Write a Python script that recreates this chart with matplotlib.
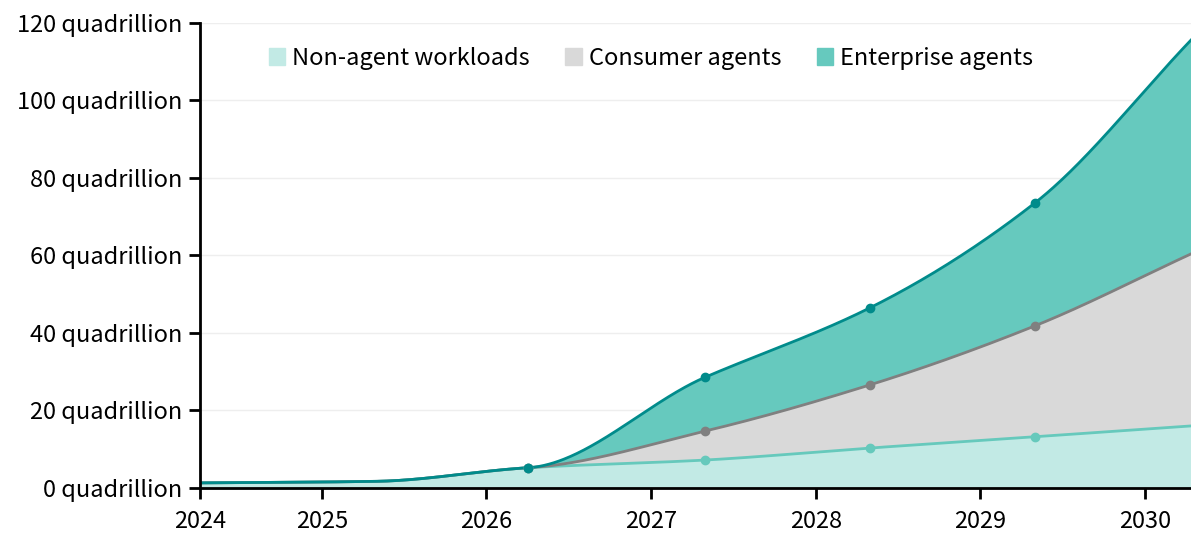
import matplotlib.pyplot as plt
import numpy as np

plt.rcParams['font.family'] = ['Noto Sans CJK KR', 'DejaVu Sans']

# data points (fractional years), quadrillions
years = [2024.26, 2025.33, 2026.25, 2027.33, 2028.33, 2029.33, 2030.28]
non_agent = [1.3, 1.7, 5.2, 7.2, 10.3, 13.2, 16.0]
consumer = [0.0, 0.0, 0.0, 7.5, 16.3, 28.6, 44.4]
enterprise = [0.0, 0.0, 0.0, 13.9, 19.9, 31.7, 55.2]
marker_idx = [2, 3, 4, 5]

series_names = ['Non-agent workloads', 'Consumer agents', 'Enterprise agents']
fills = ['#c2eae5', '#d9d9d9', '#66c9be']
lines = ['#66c9bc', '#808080', '#008b8b']


def pchip(x, y, xs):
    # monotone cubic curve through the points, for drawing the smooth line
    x = np.asarray(x, float)
    y = np.asarray(y, float)
    h = np.diff(x)
    d = np.diff(y) / h
    m = np.zeros_like(y)
    for k in range(1, len(x) - 1):
        if d[k - 1] * d[k] > 0:
            w1 = 2 * h[k] + h[k - 1]
            w2 = h[k] + 2 * h[k - 1]
            m[k] = (w1 + w2) / (w1 / d[k - 1] + w2 / d[k])
    m[0] = d[0]
    m[-1] = d[-1]
    i = np.clip(np.searchsorted(x, xs) - 1, 0, len(x) - 2)
    t = (xs - x[i]) / h[i]
    h00 = 2 * t**3 - 3 * t**2 + 1
    h10 = t**3 - 2 * t**2 + t
    h01 = -2 * t**3 + 3 * t**2
    h11 = t**3 - t**2
    return h00 * y[i] + h10 * h[i] * m[i] + h01 * y[i + 1] + h11 * h[i] * m[i + 1]


xs = np.linspace(years[0], years[-1], 600)
s1 = pchip(years, non_agent, xs)
s2 = s1 + pchip(years, consumer, xs)
s3 = s2 + pchip(years, enterprise, xs)

c1 = np.array(non_agent)
c2 = c1 + np.array(consumer)
c3 = c2 + np.array(enterprise)

fig = plt.figure(figsize=(11.91, 5.35), dpi=100)
ax = fig.add_axes([0.168, 0.088, 0.832, 0.869])

ax.fill_between(xs, 0, s1, color=fills[0], lw=0, label=series_names[0])
ax.fill_between(xs, s1, s2, color=fills[1], lw=0, label=series_names[1])
ax.fill_between(xs, s2, s3, color=fills[2], lw=0, label=series_names[2])

ax.plot(xs, s1, color=lines[0], lw=2)
ax.plot(xs, s2, color=lines[1], lw=2)
ax.plot(xs, s3, color=lines[2], lw=2)

mx = [years[k] for k in marker_idx]
ax.plot(mx, c1[marker_idx], 'o', color=lines[0], ms=6)
ax.plot(mx, c2[marker_idx], 'o', color=lines[1], ms=6)
ax.plot(mx, c3[marker_idx], 'o', color=lines[2], ms=6)

ax.set_xlim(years[0], years[-1])
ax.set_ylim(0, 120)
ax.set_xticks([years[0], 2025, 2026, 2027, 2028, 2029, 2030])
ax.set_xticklabels(['2024', '2025', '2026', '2027', '2028', '2029', '2030'])
yt = [0, 20, 40, 60, 80, 100, 120]
ax.set_yticks(yt)
ax.set_yticklabels([f'{v} quadrillion' for v in yt])
ax.grid(axis='y', color='#eeeeee', lw=1)
ax.set_axisbelow(True)

for s in ['top', 'right']:
    ax.spines[s].set_visible(False)
for s in ['left', 'bottom']:
    ax.spines[s].set_color('black')
    ax.spines[s].set_linewidth(2)
ax.tick_params(axis='both', length=8, width=2, color='black', labelsize=17)
ax.tick_params(axis='y', pad=5)
ax.tick_params(axis='x', pad=8)

handles = [plt.Rectangle((0, 0), 1, 1, color=c) for c in fills]
ax.legend(handles, series_names, loc='upper center', bbox_to_anchor=(0.455, 0.995),
          ncol=3, frameon=False, fontsize=17, handlelength=0.7, handleheight=0.7,
          handletextpad=0.3, columnspacing=1.5)

fig.savefig('out.png', dpi=100)
